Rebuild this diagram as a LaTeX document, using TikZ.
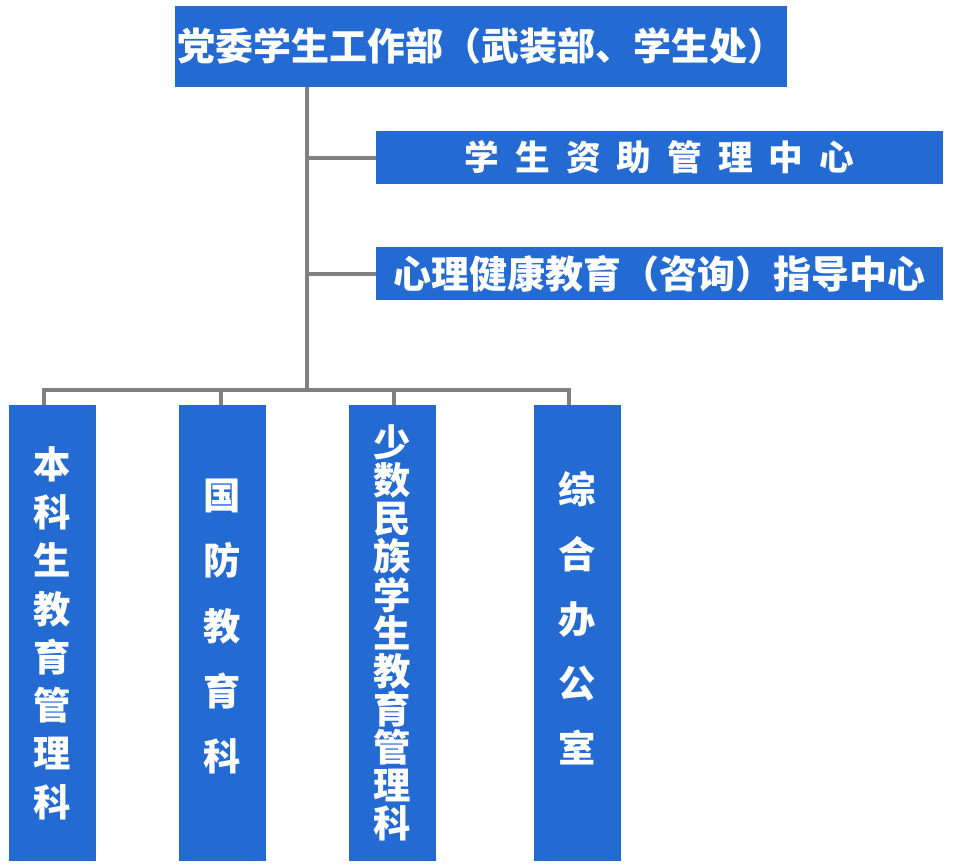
\documentclass[tikz,border=0pt]{standalone}
\usepackage{fontspec}
\usepackage{xcolor}
\setmainfont{Noto Sans CJK SC}
\definecolor{unitblue}{RGB}{35,106,211}
\definecolor{linkgray}{RGB}{128,128,128}
\newcommand{\wgap}{\hspace{12pt}}

\begin{document}
\begin{tikzpicture}[x=0.75pt, y=-0.75pt,
    unit/.style={fill=unitblue, text=white, inner sep=0pt, font=\bfseries\fontsize{26}{30}\selectfont},
    office/.style={unit, align=center, minimum width=65.25pt, minimum height=342pt},
    link/.style={draw=linkgray, line width=3pt}]
    \useasboundingbox (0,0) rectangle (953,865);

    % Department
    \node[unit, minimum width=459pt, minimum height=60.75pt] (dept) at (481,46.5)
        {\fontsize{28.5}{30}\selectfont 党委学生工作部（武装部、学生处）};

    % Centres
    \node[unit, minimum width=425.25pt, minimum height=39.75pt] (aid) at (659.5,157.5)
        {学\wgap 生\wgap 资\wgap 助\wgap 管\wgap 理\wgap 中\wgap 心};
    \node[unit, minimum width=425.25pt, minimum height=39.75pt] (psy) at (659.5,273.5)
        {\fontsize{28.5}{30}\selectfont 心理健康教育（咨询）指导中心};

    % Offices
    \node[office, font=\bfseries\fontsize{28}{36.2}\selectfont] (ug) at (52,633)
        {本\\科\\生\\教\\育\\管\\理\\科};
    \node[office, font=\bfseries\fontsize{28}{49}\selectfont] (def) at (222,633)
        {国\\防\\教\\育\\科\\[-37pt]};
    \node[office, font=\bfseries\fontsize{28}{28.6}\selectfont] (eth) at (392,633)
        {少\\数\\民\\族\\学\\生\\教\\育\\管\\理\\科};
    \node[office, font=\bfseries\fontsize{28}{48.5}\selectfont] (gen) at (577,633)
        {综\\合\\办\\公\\室\\[-24.5pt]};

    % Lines
    \coordinate (trunk) at (307,390);
    \coordinate (d1) at (44,390);
    \coordinate (d2) at (221,390);
    \coordinate (d3) at (394,390);
    \coordinate (d4) at (569,390);
    \draw[link] (dept.south -| trunk) -- (trunk);
    \draw[link] (trunk |- aid.west) -- (aid.west);
    \draw[link] (trunk |- psy.west) -- (psy.west);
    \draw[link] (d1 |- ug.north) -- (d1) -- (d4) -- (d4 |- gen.north);
    \draw[link] (d2) -- (d2 |- def.north);
    \draw[link] (d3) -- (d3 |- eth.north);
\end{tikzpicture}
\end{document}
